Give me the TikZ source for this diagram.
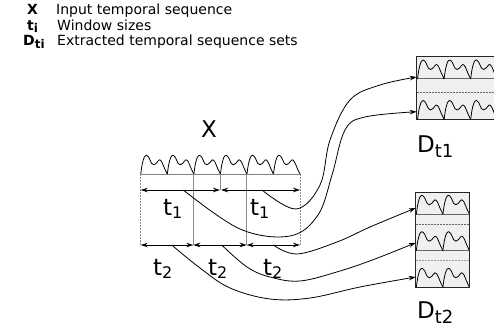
\documentclass[tikz,border=0pt]{standalone}
\usepackage{fontspec}
\setmainfont{DejaVu Sans}
\usetikzlibrary{arrows.meta}
\tikzset{
  conn/.style={-{Stealth[length=7pt,width=4.5pt]}, line width=0.8pt},
  dimarrow/.style={{Stealth[length=7pt,width=4.5pt]}-{Stealth[length=7pt,width=4.5pt]}, line width=0.8pt},
  guide/.style={draw=black!45, line width=0.7pt},
  guidedash/.style={guide, dash pattern=on 2pt off 1pt},
  wave/.style={line width=0.8pt, line join=round},
  lbl/.style={font=\fontsize{23}{27}\selectfont, inner sep=0pt, anchor=base west},
  leg/.style={font=\fontsize{14}{17}\selectfont, inner sep=0pt, anchor=base west},
  setbox/.style={draw=black!85, fill=black!6, line width=0.8pt},
  rowline/.style={draw=black!60, line width=1pt},
  rowdash/.style={draw=black!60, line width=0.7pt, dash pattern=on 2pt off 1pt},
  bump/.pic={\draw[wave] plot[smooth,tension=0.5] coordinates {(0,0) (1.5,-10) (3.5,-17) (5.8,-19) (8.3,-16.5) (10.8,-11) (13,-9.5) (15.5,-11) (18.6,-14.5) (21,-12.5) (24,-5.5) (26.67,0)};},
}
\newcommand\tsub[1]{\raisebox{-3.5pt}{\fontsize{16}{16}\selectfont #1}}
\newcommand\dsub[1]{\raisebox{-5pt}{\fontsize{18}{18}\selectfont #1}}
\newcommand\lsub[1]{\raisebox{-2.5pt}{\fontsize{12}{12}\selectfont\bfseries #1}}
\begin{document}
\begin{tikzpicture}[x=1pt,y=-1pt]
\clip (0,0) rectangle (494,331);
% legend
\node[leg] (kX) at (27,15) {\textbf{X}};
\node[leg] (dX) at (56,15) {Input temporal sequence};
\node[leg] (kt) at (27,30.5) {\textbf{t}\lsub{i}};
\node[leg] (dt) at (57,30.5) {Window sizes};
\node[leg] (kD) at (23,46) {\textbf{D}\lsub{ti}};
\node[leg] (dD) at (57,46) {Extracted temporal sequence sets};
% input sequence
\node[lbl, anchor=base] (X) at (209,137) {X};
\foreach \i in {0,...,5} \pic at ({140.7+26.55*\i},174.3) {bump};
\draw[draw=black!50, line width=1.3pt] (140.7,174.3) coordinate (L) -- (300,174.3) coordinate (R);
% guides and window coordinates
\coordinate (g0) at (140.7,174.3); \coordinate (g1) at (193.3,174.3);
\coordinate (gm) at (220,174.3);   \coordinate (g2) at (246.7,174.3);
\coordinate (g3) at (300,174.3);
\coordinate (p0) at (140.7,190); \coordinate (pm) at (220,190); \coordinate (pm2) at (221,190); \coordinate (p3) at (300,190);
\coordinate (q0) at (140.7,245); \coordinate (q1) at (193.3,245); \coordinate (q2) at (246.7,245); \coordinate (q3) at (300,245);
\draw[guidedash] (g0) -- (q0);
\draw[guide] (g1) -- (q1);
\draw[guide] (gm) -- (pm);
\draw[guide] (g2) -- (q2);
\draw[guidedash] (g3) -- (q3);
\draw[dimarrow] (p0) -- (pm);
\draw[dimarrow] (pm2) -- (p3);
\draw[dimarrow] (q0) -- (q1);
\draw[dimarrow] (q1) -- (q2);
\draw[dimarrow] (q2) -- (q3);
\node[lbl] (ta) at (163,215) {t\tsub{1}};
\node[lbl] (tb) at (250,215) {t\tsub{1}};
\node[lbl] (tc) at (153,275) {t\tsub{2}};
\node[lbl] (td) at (208,275) {t\tsub{2}};
\node[lbl] (te) at (263,275) {t\tsub{2}};
% D_t1
\draw[setbox] (416.7,56.7) rectangle (520,119.5);
\draw[rowline] (416.7,79) -- (520,79);
\draw[rowdash] (416.7,92) -- (520,92);
\foreach \i in {0,1,2} {\pic at ({417.5+26.55*\i},79) {bump}; \pic at ({417.5+26.55*\i},119.5) {bump};}
\draw[draw=black!85, line width=0.8pt] (416.7,56.7) -- (416.7,119.5);
\node[lbl] (D1) at (417,153) {D\dsub{t1}};
% D_t2
\draw[setbox] (415.7,192.3) rectangle (469.3,287.3);
\draw[rowline] (415.7,214.3) -- (469.3,214.3);
\draw[rowdash] (415.7,224) -- (469.3,224);
\draw[rowline] (415.7,250.7) -- (469.3,250.7);
\draw[rowdash, draw=black!40] (415.7,260.7) -- (469.3,260.7);
\foreach \i in {0,1} {\pic at ({416.3+26.55*\i},214.3) {bump}; \pic at ({416.3+26.55*\i},250.7) {bump}; \pic at ({416.3+26.55*\i},287.3) {bump};}
\draw[setbox, fill=none] (415.7,192.3) rectangle (469.3,287.3);
\node[lbl] (D2) at (417,318) {D\dsub{t2}};
% connectors
\coordinate (s1) at (183.3,190); \coordinate (s2) at (262,190);
\coordinate (s3) at (273.3,245); \coordinate (s4) at (221.7,245); \coordinate (s5) at (171.7,245);
\coordinate (e1) at (416.7,111.7); \coordinate (e2) at (416.7,77);
\coordinate (e3) at (415.7,208); \coordinate (e4) at (415.7,242.7); \coordinate (e5) at (415.7,277);
\draw[conn] plot[smooth,tension=0.6] coordinates {(s2) (296,209) (320,185) (330,140) (350,100) (380,85) (e2)};
\draw[conn] plot[smooth,tension=0.6] coordinates {(s1) (240,229) (290,236) (318,215) (332,175) (345,130) (365,117) (e1)};
\draw[conn] plot[smooth,tension=0.6] coordinates {(s3) (297,254) (337,242) (370,227) (e3)};
\draw[conn] plot[smooth,tension=0.6] coordinates {(s4) (247,267) (270,277) (300,281) (340,271) (375,259) (e4)};
\draw[conn] plot[smooth,tension=0.6] coordinates {(s5) (200,268) (230,288) (270,299) (310,298) (360,287) (e5)};
\end{tikzpicture}
\end{document}
